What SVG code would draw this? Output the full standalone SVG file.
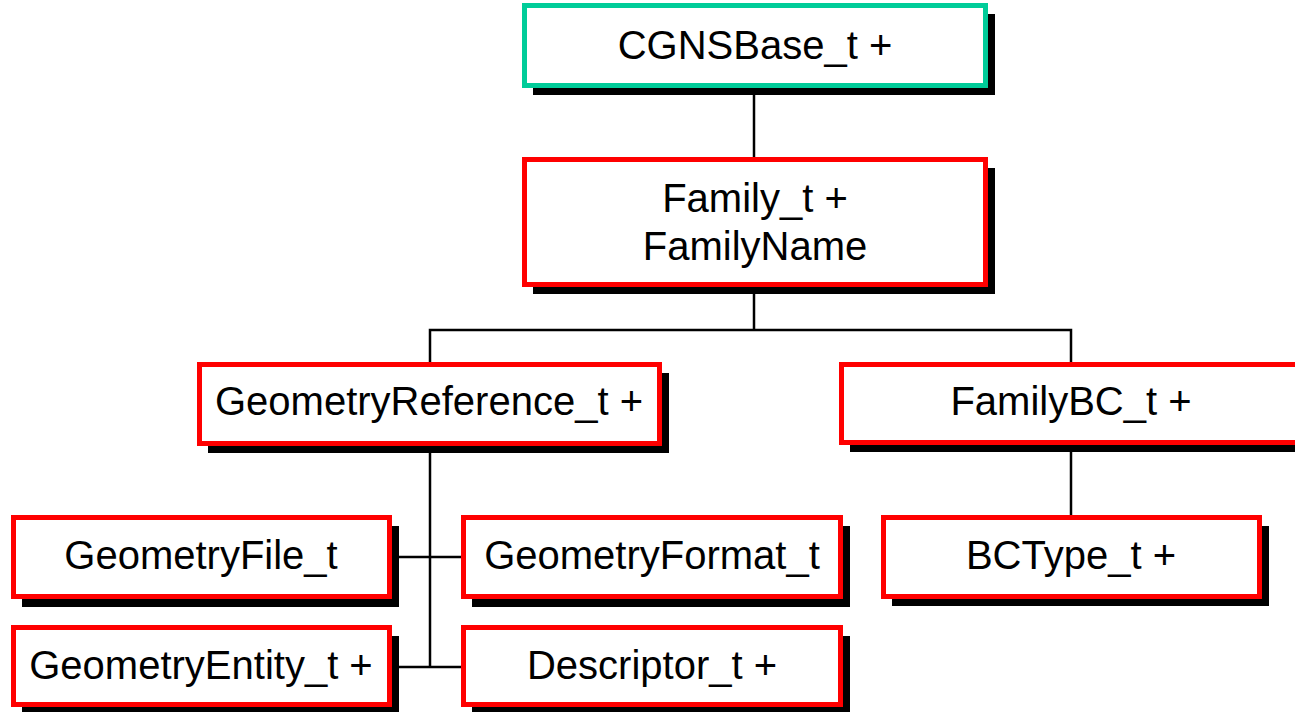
<svg xmlns="http://www.w3.org/2000/svg" width="1295" height="712" viewBox="0 0 1295 712">
<style>
.box{fill:#fff;stroke:#ff0000;stroke-width:5}
.base{fill:#fff;stroke:#00cc99;stroke-width:5}
.sh{fill:#000}
.lbl{font-family:"Liberation Sans",Arial,sans-serif;font-size:40px;fill:#000;text-anchor:middle}
.con{stroke:#000;stroke-width:2.5;fill:none}
</style>
<rect width="1295" height="712" fill="#fff"/>
<g id="connectors">
<line class="con" x1="754" y1="88" x2="754" y2="157"/>
<line class="con" x1="754" y1="287" x2="754" y2="330"/>
<polyline class="con" points="430,362 430,330 1071,330 1071,362"/>
<line class="con" x1="430" y1="446" x2="430" y2="667"/>
<line class="con" x1="392" y1="557" x2="461" y2="557"/>
<line class="con" x1="392" y1="667" x2="461" y2="667"/>
<line class="con" x1="1071" y1="445" x2="1071" y2="515"/>
</g>
<g id="CGNSBase">
<rect class="sh" x="533" y="14" width="462" height="81"/>
<rect class="base" x="524.5" y="5.5" width="461" height="80"/>
<text class="lbl" x="755" y="59">CGNSBase_t +</text>
</g>
<g id="Family">
<rect class="sh" x="533" y="168" width="462" height="126"/>
<rect class="box" x="524.5" y="159.5" width="461" height="125"/>
<text class="lbl" x="755" y="212">Family_t +</text>
<text class="lbl" x="755" y="260">FamilyName</text>
</g>
<g id="GeometryReference">
<rect class="sh" x="208" y="373" width="461" height="80"/>
<rect class="box" x="199.5" y="364.5" width="460" height="79"/>
<text class="lbl" x="429" y="415">GeometryReference_t +</text>
</g>
<g id="FamilyBC">
<rect class="sh" x="850" y="373" width="460" height="79"/>
<rect class="box" x="841.5" y="364.5" width="459" height="78"/>
<text class="lbl" x="1071" y="415">FamilyBC_t +</text>
</g>
<g id="GeometryFile">
<rect class="sh" x="22" y="526" width="377" height="81"/>
<rect class="box" x="13.5" y="517.5" width="376" height="79"/>
<text class="lbl" x="201" y="569">GeometryFile_t</text>
</g>
<g id="GeometryFormat">
<rect class="sh" x="472" y="526" width="378" height="81"/>
<rect class="box" x="463.5" y="517.5" width="377" height="79"/>
<text class="lbl" x="652" y="569">GeometryFormat_t</text>
</g>
<g id="GeometryEntity">
<rect class="sh" x="22" y="636" width="377" height="78"/>
<rect class="box" x="13.5" y="627.5" width="376" height="77"/>
<text class="lbl" x="201" y="679">GeometryEntity_t +</text>
</g>
<g id="Descriptor">
<rect class="sh" x="472" y="636" width="378" height="78"/>
<rect class="box" x="463.5" y="627.5" width="377" height="77"/>
<text class="lbl" x="652" y="679">Descriptor_t +</text>
</g>
<g id="BCType">
<rect class="sh" x="892" y="526" width="377" height="80"/>
<rect class="box" x="883.5" y="517.5" width="376" height="79"/>
<text class="lbl" x="1071" y="569">BCType_t +</text>
</g>
</svg>
